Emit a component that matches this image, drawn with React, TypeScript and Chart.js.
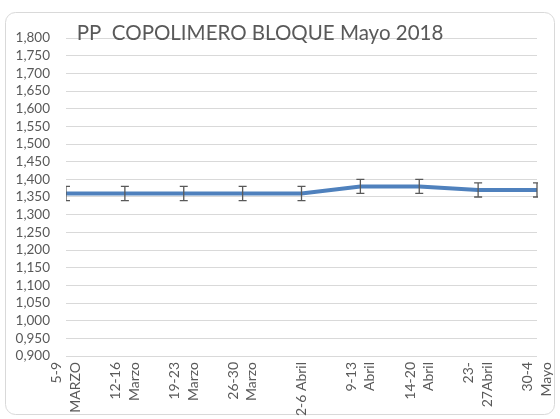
import React, { useEffect, useRef } from "react";
import { Chart, registerables } from "chart.js";

Chart.register(...registerables);

const categories: (string | string[])[] = [
  ["5-9", "MARZO"],
  ["12-16", "Marzo"],
  ["19-23", "Marzo"],
  ["26-30", "Marzo"],
  "2-6 Abril",
  ["9-13", "Abril"],
  ["14-20", "Abril"],
  ["23-", "27Abril"],
  ["30-4", "Mayo"],
];
const values = [1.36, 1.36, 1.36, 1.36, 1.36, 1.38, 1.38, 1.37, 1.37];
const errors = [0.02, 0.02, 0.02, 0.02, 0.02, 0.02, 0.02, 0.02, 0.02];
const titleText = "PP  COPOLIMERO BLOQUE Mayo 2018";
const yMin = 0.9;
const yMax = 1.8;
const yStep = 0.05;

const FONT = "Lato";
const TEXT_COLOR = "#595959";

const framePlugin = {
  id: "frame",
  beforeDraw(chart: any) {
    const ctx = chart.ctx;
    ctx.save();
    ctx.fillStyle = "#ffffff";
    ctx.fillRect(0, 0, chart.width, chart.height);
    ctx.strokeStyle = "#d9d9d9";
    ctx.lineWidth = 1;
    ctx.beginPath();
    ctx.roundRect(5.5, 12.5, 549, 402, 10);
    ctx.stroke();
    ctx.restore();
  },
};

const errorBarPlugin = {
  id: "errorBars",
  afterDatasetsDraw(chart: any) {
    const ctx = chart.ctx;
    const x = chart.scales.x;
    const y = chart.scales.y;
    const area = chart.chartArea;
    ctx.save();
    ctx.beginPath();
    ctx.rect(area.left, area.top - 10, area.right - area.left + 1, area.bottom - area.top + 20);
    ctx.clip();
    ctx.strokeStyle = "#595959";
    ctx.lineWidth = 1.3;
    values.forEach((v, i) => {
      const px = x.getPixelForValue(i);
      const top = y.getPixelForValue(v + errors[i]);
      const bot = y.getPixelForValue(v - errors[i]);
      ctx.beginPath();
      ctx.moveTo(px, top);
      ctx.lineTo(px, bot);
      ctx.moveTo(px - 4, top);
      ctx.lineTo(px + 4, top);
      ctx.moveTo(px - 4, bot);
      ctx.lineTo(px + 4, bot);
      ctx.stroke();
    });
    ctx.restore();
  },
};

const xLabelPlugin = {
  id: "xLabels",
  afterDraw(chart: any) {
    const ctx = chart.ctx;
    const x = chart.scales.x;
    const baseY = chart.chartArea.bottom + 6;
    const lineGap = 18.5;
    ctx.save();
    ctx.fillStyle = TEXT_COLOR;
    ctx.font = `14px ${FONT}`;
    ctx.textAlign = "right";
    ctx.textBaseline = "middle";
    categories.forEach((lab, i) => {
      const lines = Array.isArray(lab) ? lab : [lab];
      const px = x.getPixelForValue(i);
      const n = lines.length;
      lines.forEach((line, j) => {
        const cx = px + (j - (n - 1) / 2) * lineGap;
        ctx.save();
        ctx.translate(cx, baseY);
        ctx.rotate(-Math.PI / 2);
        ctx.fillText(line, 0, 0);
        ctx.restore();
      });
    });
    ctx.restore();
  },
};

const titlePlugin = {
  id: "titleText",
  afterDraw(chart: any) {
    const ctx = chart.ctx;
    ctx.save();
    ctx.fillStyle = TEXT_COLOR;
    ctx.font = `20.5px ${FONT}`;
    ctx.textAlign = "center";
    ctx.textBaseline = "middle";
    ctx.fillText(titleText, 260, 33);
    ctx.restore();
  },
};

export default function App() {
  const ref = useRef<HTMLCanvasElement>(null);
  useEffect(() => {
    if (!ref.current) return;
    const chart = new Chart(ref.current, {
      type: "line",
      data: {
        labels: categories,
        datasets: [
          {
            data: values,
            borderColor: "#4f81bd",
            borderWidth: 4,
            pointRadius: 0,
            tension: 0,
            fill: false,
          },
        ],
      },
      options: {
        animation: false,
        responsive: false,
        layout: { padding: { left: 0, top: 38, right: 23, bottom: 0 } },
        plugins: {
          legend: { display: false },
          title: { display: false },
          tooltip: { enabled: false },
        },
        scales: {
          x: {
            offset: false,
            grid: { display: false },
            border: { display: false },
            ticks: { display: false },
            afterFit(scale: any) {
              scale.height = 63;
              scale.paddingLeft = 0;
              scale.paddingRight = 0;
            },
          },
          y: {
            min: yMin,
            max: yMax,
            grid: { color: "#d9d9d9", drawTicks: false },
            border: { display: false },
            ticks: {
              stepSize: yStep,
              autoSkip: false,
              color: TEXT_COLOR,
              padding: 16,
              font: { family: FONT, size: 13.5 },
              callback: (v: any) => Number(v).toFixed(3).replace(".", ","),
            },
            afterFit(scale: any) {
              scale.width = 66;
              scale.paddingTop = 0;
              scale.paddingBottom = 0;
            },
          },
        },
      },
      plugins: [framePlugin, errorBarPlugin, xLabelPlugin, titlePlugin],
    });
    return () => chart.destroy();
  }, []);
  return (
    <div style={{ position: "fixed", left: 0, top: 0, width: 560, height: 419 }}>
      <canvas ref={ref} width={560} height={419} />
    </div>
  );
}
